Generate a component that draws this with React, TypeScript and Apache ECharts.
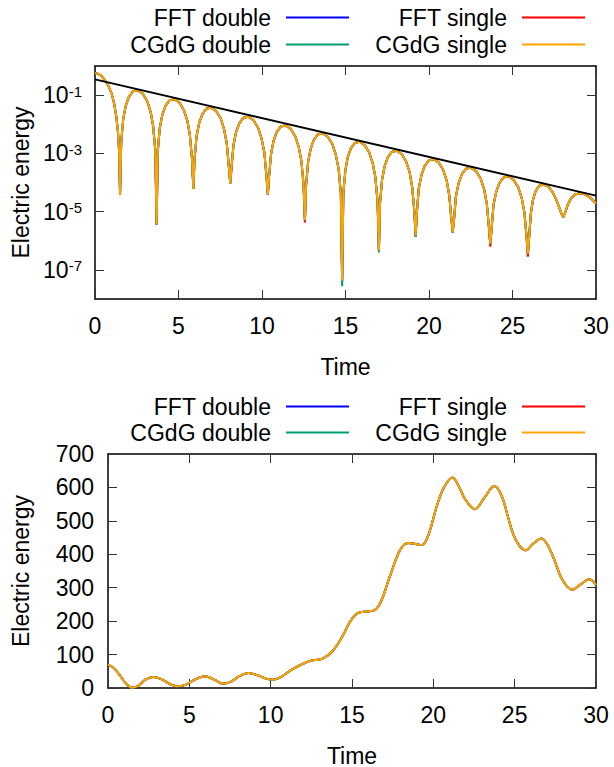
import React, { useEffect, useRef } from "react";
import * as echarts from "echarts";

// ---------- data ----------
const seriesNames = ["FFT double", "FFT single", "CGdG double", "CGdG single"];
const seriesColors = ["#0000ff", "#ff0000", "#009e73", "#ffa500"];

const xTickValues = [0, 5, 10, 15, 20, 25, 30];
const logTickExponents = [-7, -5, -3, -1];
const linearTickValues = [0, 100, 200, 300, 400, 500, 600, 700];

// top panel: time and log10(electric energy)
const topTime = [
  0, 0.2, 0.4, 0.6, 0.8, 1.0, 1.15, 1.28, 1.38, 1.45, 1.5,
  1.57, 1.69, 1.84, 2.03, 2.27, 2.55, 2.86, 3.12, 3.33, 3.48, 3.61, 3.69,
  3.76, 3.88, 4.03, 4.22, 4.46, 4.75, 5.06, 5.32, 5.53, 5.68, 5.81, 5.89,
  5.96, 6.08, 6.23, 6.42, 6.66, 6.95, 7.26, 7.53, 7.73, 7.89, 8.02, 8.1,
  8.17, 8.29, 8.44, 8.64, 8.88, 9.17, 9.49, 9.76, 9.97, 10.14, 10.27, 10.35,
  10.42, 10.54, 10.69, 10.88, 11.12, 11.4, 11.72, 11.99, 12.2, 12.36, 12.49, 12.57,
  12.64, 12.76, 12.91, 13.1, 13.34, 13.62, 13.94, 14.21, 14.42, 14.59, 14.72, 14.8,
  14.87, 14.99, 15.13, 15.32, 15.56, 15.84, 16.15, 16.42, 16.63, 16.79, 16.92, 17.0,
  17.07, 17.19, 17.34, 17.53, 17.77, 18.06, 18.37, 18.63, 18.84, 18.99, 19.12, 19.2,
  19.28, 19.39, 19.55, 19.74, 19.99, 20.28, 20.59, 20.85, 21.06, 21.21, 21.34, 21.42,
  21.5, 21.61, 21.77, 21.96, 22.21, 22.5, 22.82, 23.09, 23.3, 23.46, 23.59, 23.67,
  23.75, 23.86, 24.02, 24.21, 24.46, 24.75, 25.07, 25.34, 25.55, 25.71, 25.84, 25.92,
  26.0, 26.1, 26.22, 26.38, 26.6, 26.85, 27.15, 27.4, 27.6, 27.78, 27.92, 28.04,
  28.16, 28.3, 28.5, 28.75, 29.05, 29.35, 29.6, 29.8, 30.0,
];
const topLogEnergy = [
  -0.24, -0.27, -0.35, -0.5, -0.68, -0.95, -1.3, -1.75, -2.3, -3.0, -4.42,
  -2.61, -1.82, -1.37, -1.06, -0.87, -0.83, -0.95, -1.2, -1.57, -2.06, -2.89, -5.45,
  -2.92, -2.13, -1.68, -1.37, -1.18, -1.14, -1.26, -1.51, -1.88, -2.37, -3.2, -4.22,
  -3.21, -2.42, -1.97, -1.66, -1.47, -1.43, -1.55, -1.8, -2.17, -2.66, -3.49, -4.03,
  -3.52, -2.73, -2.28, -1.97, -1.78, -1.74, -1.86, -2.11, -2.48, -2.97, -3.8, -4.42,
  -3.82, -3.03, -2.58, -2.27, -2.08, -2.04, -2.16, -2.41, -2.78, -3.27, -4.1, -5.34,
  -4.09, -3.3, -2.85, -2.54, -2.35, -2.31, -2.43, -2.68, -3.05, -3.54, -4.37, -7.54,
  -4.38, -3.59, -3.14, -2.83, -2.64, -2.6, -2.72, -2.97, -3.34, -3.83, -4.66, -6.39,
  -4.69, -3.9, -3.45, -3.14, -2.95, -2.91, -3.03, -3.28, -3.65, -4.14, -4.97, -5.85,
  -4.98, -4.19, -3.74, -3.43, -3.24, -3.2, -3.32, -3.57, -3.94, -4.43, -5.26, -5.71,
  -5.27, -4.48, -4.03, -3.72, -3.53, -3.49, -3.61, -3.86, -4.23, -4.72, -5.55, -6.16,
  -5.57, -4.78, -4.33, -4.02, -3.83, -3.79, -3.91, -4.16, -4.53, -5.02, -5.85, -6.51,
  -5.85, -5.06, -4.61, -4.3, -4.11, -4.07, -4.14, -4.33, -4.56, -4.83, -5.05, -5.19,
  -5.02, -4.78, -4.55, -4.41, -4.36, -4.41, -4.5, -4.6, -4.72,
];

// depth of each dip (log10) per run
const minimaTimes = [1.5, 3.69, 5.89, 8.1, 10.35, 12.57, 14.8, 17.0, 19.2, 21.42, 23.67, 25.92, 28.04];
const fftDoubleMinima = [-4.42, -5.45, -4.22, -4.03, -4.42, -5.3, -7.4, -6.34, -5.85, -5.71, -6.1, -6.45, -5.19];
const fftSingleMinima = [-4.42, -5.45, -4.22, -4.03, -4.42, -5.37, -7.38, -6.32, -5.84, -5.71, -6.2, -6.55, -5.19];
const cgdgDoubleMinima = [-4.42, -5.45, -4.22, -4.03, -4.42, -5.3, -7.56, -6.4, -5.87, -5.71, -6.1, -6.45, -5.19];
const cgdgSingleMinima = [-4.42, -5.44, -4.22, -4.03, -4.41, -5.29, -7.36, -6.33, -5.83, -5.7, -6.09, -6.44, -5.19];
const minimaBySeries = [fftDoubleMinima, fftSingleMinima, cgdgDoubleMinima, cgdgSingleMinima];

// damping-rate reference line (log10)
const fitTime = [0, 30];
const fitLogEnergy = [-0.46, -4.45];

// bottom panel: time and electric energy
const bottomTime = [
  0, 0.4, 0.8, 1.1, 1.5, 1.9, 2.3, 2.8, 3.3, 3.8, 4.25, 4.8, 5.3, 5.95, 6.5, 7.1,
  7.6, 8.1, 8.65, 9.2, 9.7, 10.1, 10.6, 11.2, 11.8, 12.4, 13.2, 13.85, 14.45, 14.9,
  15.35, 15.9, 16.35, 16.75, 17.3, 17.95, 18.45, 18.9, 19.3, 19.7, 20.2, 20.65, 21.18,
  21.6, 21.95, 22.55, 23.15, 23.75, 24.2, 24.6, 24.9, 25.3, 25.68, 26.15, 26.65, 27.0,
  27.4, 27.95, 28.55, 29.05, 29.6, 30.0,
];
const bottomEnergy = [
  70, 58, 33, 14, 1, 8, 25, 33, 26, 12, 5, 10, 24, 35, 26, 13,
  20, 36, 45, 38, 28, 25, 32, 52, 68, 81, 88, 113, 158, 200,
  224, 229, 232, 255, 330, 412, 434, 431, 428, 458, 542, 600, 630,
  600, 565, 535, 570, 604, 575, 510, 462, 425, 412, 432, 447, 430,
  388, 322, 294, 310, 325, 308,
];

// ---------- styling ----------
const FONT = "'Liberation Sans', Arial, Helvetica, sans-serif";
const FS = 23;

function topSeriesData(k: number) {
  const mins = minimaBySeries[k];
  return topTime.map((t, i) => {
    const mi = minimaTimes.indexOf(t);
    return [t, mi >= 0 ? mins[mi] : topLogEnergy[i]];
  });
}

function xAxes(gridIndex: number) {
  const common = {
    gridIndex,
    type: "value" as const,
    min: 0,
    max: 30,
    interval: 5,
    splitLine: { show: false },
    axisLine: { show: true, onZero: false, lineStyle: { color: "#000", width: 1.5 } },
    axisTick: { show: true, inside: true, length: 9, lineStyle: { color: "#333", width: 1 } },
  };
  return [
    {
      ...common,
      position: "bottom",
      name: "Time",
      nameLocation: "middle",
      nameGap: 56,
      nameTextStyle: { fontSize: FS, fontFamily: FONT, color: "#000" },
      axisLabel: { fontSize: FS, fontFamily: FONT, color: "#000", margin: 15, customValues: xTickValues },
    },
    { ...common, position: "top", axisLabel: { show: false } },
  ];
}

export default function App() {
  const ref = useRef<HTMLDivElement>(null);
  useEffect(() => {
    if (!ref.current) return;
    const chart = echarts.init(ref.current, undefined, { renderer: "svg" });

    const logYCommon = {
      gridIndex: 0,
      type: "value" as const,
      min: -8,
      max: 0,
      interval: 1,
      splitLine: { show: false },
      axisLine: { show: true, onZero: false, lineStyle: { color: "#000", width: 1.5 } },
      axisTick: {
        show: true,
        inside: true,
        length: 9,
        customValues: logTickExponents,
        lineStyle: { color: "#333", width: 1 },
      },
    };
    const linYCommon = {
      gridIndex: 1,
      type: "value" as const,
      min: 0,
      max: 700,
      interval: 100,
      splitLine: { show: false },
      axisLine: { show: true, onZero: false, lineStyle: { color: "#000", width: 1.5 } },
      axisTick: { show: true, inside: true, length: 9, lineStyle: { color: "#333", width: 1 } },
    };

    const legends: any[] = [];
    const colRight = [264, 28];
    const rowCenters = [
      [18, 45],
      [407, 433],
    ];
    for (let c = 0; c < 2; c++) {
      for (let i = 0; i < 4; i++) {
        const col = i % 2;
        const row = Math.floor(i / 2);
        legends.push({
          show: true,
          data: [seriesNames[i]],
          right: colRight[col],
          top: rowCenters[c][row] - 12,
          align: "right",
          orient: "horizontal",
          itemWidth: 63,
          itemHeight: 24,
          padding: 0,
          selectedMode: false,
          itemStyle: { opacity: 0 },
          lineStyle: { width: 2 },
          textStyle: { fontSize: FS, fontFamily: FONT, color: "#000", padding: [0, 10, 0, 0] },
        });
      }
    }

    const series: any[] = [];
    for (let k = 0; k < 4; k++) {
      series.push({
        name: seriesNames[k],
        type: "line",
        xAxisIndex: 0,
        yAxisIndex: 0,
        data: topSeriesData(k),
        symbol: "none",
        lineStyle: { color: seriesColors[k], width: 2 },
        itemStyle: { color: seriesColors[k] },
      });
    }
    series.push({
      name: "fit",
      type: "line",
      xAxisIndex: 0,
      yAxisIndex: 0,
      data: fitTime.map((t, i) => [t, fitLogEnergy[i]]),
      symbol: "none",
      lineStyle: { color: "#000", width: 2 },
      itemStyle: { color: "#000" },
    });
    for (let k = 0; k < 4; k++) {
      series.push({
        name: seriesNames[k],
        type: "line",
        xAxisIndex: 2,
        yAxisIndex: 2,
        data: bottomTime.map((t, i) => [t, bottomEnergy[i]]),
        symbol: "none",
        smooth: 0.35,
        lineStyle: { color: seriesColors[k], width: 2 },
        itemStyle: { color: seriesColors[k] },
      });
    }

    chart.setOption({
      animation: false,
      backgroundColor: "#fff",
      textStyle: { fontFamily: FONT },
      legend: legends,
      grid: [
        { left: 95, top: 66, width: 501, height: 233, containLabel: false, outerBoundsMode: "none" },
        { left: 108, top: 454, width: 488, height: 234, containLabel: false, outerBoundsMode: "none" },
      ],
      xAxis: [...xAxes(0), ...xAxes(1)],
      yAxis: [
        {
          ...logYCommon,
          position: "left",
          name: "Electric energy",
          nameLocation: "middle",
          nameGap: 62,
          nameTextStyle: { fontSize: FS, fontFamily: FONT, color: "#000" },
          axisLabel: {
            margin: 13,
            customValues: logTickExponents,
            formatter: (v: number) => `{b|10}{s|${v}}`,
            rich: {
              b: { fontSize: FS, fontFamily: FONT, color: "#000" },
              s: { fontSize: 15, fontFamily: FONT, color: "#000", verticalAlign: "top" },
            },
          },
        },
        { ...logYCommon, position: "right", axisLabel: { show: false } },
        {
          ...linYCommon,
          position: "left",
          name: "Electric energy",
          nameLocation: "middle",
          nameGap: 76,
          nameTextStyle: { fontSize: FS, fontFamily: FONT, color: "#000" },
          axisLabel: { fontSize: FS, fontFamily: FONT, color: "#000", margin: 14, customValues: linearTickValues },
        },
        { ...linYCommon, position: "right", axisLabel: { show: false } },
      ],
      series,
    });
    return () => chart.dispose();
  }, []);
  return (
    <div
      ref={ref}
      style={{ position: "fixed", left: 0, top: 0, width: 614, height: 767, background: "#fff" }}
    />
  );
}
